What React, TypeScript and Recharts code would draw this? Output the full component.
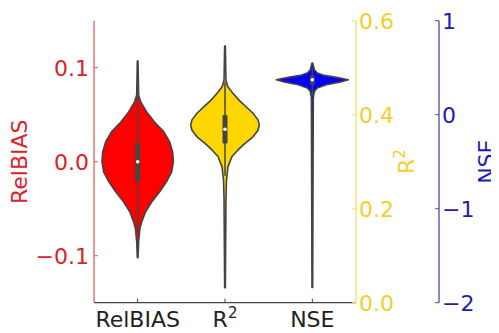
import * as React from "react"
import { ComposedChart, Scatter, XAxis, YAxis, Label } from "recharts"

const categories = ["RelBIAS", "R²", "NSE"]

// violin outlines: value along the axis, half width in category units
const relbiasY = [-0.102, -0.085, -0.071, -0.064, -0.053, -0.043, -0.032, -0.021, -0.011, 0.0, 0.01, 0.021, 0.032, 0.042, 0.053, 0.064, 0.071, 0.107]
const relbiasWidth = [0.004, 0.011, 0.026, 0.046, 0.092, 0.16, 0.252, 0.332, 0.389, 0.409, 0.401, 0.367, 0.298, 0.195, 0.103, 0.034, 0.011, 0.004]

const r2Y = [0.032, 0.219, 0.261, 0.289, 0.311, 0.325, 0.339, 0.353, 0.367, 0.378, 0.389, 0.403, 0.417, 0.431, 0.446, 0.46, 0.474, 0.546]
const r2Width = [0.004, 0.011, 0.017, 0.034, 0.08, 0.149, 0.229, 0.321, 0.378, 0.393, 0.378, 0.321, 0.241, 0.16, 0.088, 0.031, 0.011, 0.004]

const nseY = [-1.837, 0.178, 0.248, 0.284, 0.319, 0.348, 0.372, 0.397, 0.418, 0.443, 0.479, 0.55]
const nseWidth = [0.004, 0.011, 0.023, 0.057, 0.16, 0.321, 0.412, 0.275, 0.137, 0.057, 0.023, 0.004]

// inner box plot per violin (RelBIAS, R², NSE)
const boxLow = [-0.021, 0.339, 0.319]
const boxHigh = [0.02, 0.399, 0.418]
const medians = [0.0, 0.369, 0.372]
const whiskerLow = [-0.075, 0.27, 0.2]
const whiskerHigh = [0.07, 0.47, 0.5]

const relbiasTicks = [-0.1, 0, 0.1]
const r2Ticks = [0, 0.2, 0.4, 0.6]
const nseTicks = [-2, -1, 0, 1]

const EDGE = "#444444"
const FONT = "DejaVu Sans"

// axis ids sort in the order the right-hand axes are stacked
const violins = [
  { axis: "a-rel", ys: relbiasY, ws: relbiasWidth, fill: "#ff0000" },
  { axis: "b-r2", ys: r2Y, ws: r2Width, fill: "#ffd700" },
  { axis: "c-nse", ys: nseY, ws: nseWidth, fill: "#0000ff" },
]

function outline(pos: number, ys: number[], ws: number[]) {
  const right = ys.map((y, i) => ({ x: pos + ws[i], y }))
  const left = ys.map((y, i) => ({ x: pos - ws[i], y })).reverse()
  return [...right, ...left]
}

const minus = (s: string) => s.replace("-", "\u2212")

// "R²" drawn mathtext-style: raised, smaller 2
function withSuper(text: string) {
  if (text !== "R²") return text
  return (
    <>
      R
      <tspan dy={-9} fontSize={15}>
        2
      </tspan>
    </>
  )
}

const noDot = () => <g />

const medianDot = (p: any) => <circle cx={p.cx} cy={p.cy} r={1.8} fill="#ffffff" />

const xTick = (p: any) => (
  <text x={p.x} y={p.y} dy="0.71em" textAnchor="middle" fill="#222222" fontSize={22} fontFamily={FONT}>
    {withSuper(categories[p.payload.value])}
  </text>
)

function sideLabel(text: string, color: string, dx: number) {
  return (props: any) => {
    const vb = props.viewBox
    const x = vb.x + dx
    const y = vb.y + vb.height / 2
    return (
      <text
        x={x}
        y={y}
        transform={`rotate(-90, ${x}, ${y})`}
        textAnchor="middle"
        fill={color}
        fontSize={22}
        fontFamily={FONT}
      >
        {withSuper(text)}
      </text>
    )
  }
}

export default function App() {
  return (
    <ComposedChart width={491} height={325} margin={{ top: 12.7, right: 0, bottom: 0, left: 0 }}>
      <XAxis
        type="number"
        dataKey="x"
        domain={[-0.5, 2.5]}
        ticks={[0, 1, 2]}
        interval={0}
        height={30.3}
        axisLine={{ stroke: EDGE, strokeWidth: 1.3 }}
        tickLine={{ stroke: EDGE }}
        tickSize={-4}
        tickMargin={13}
        tick={xTick}
      />
      <YAxis
        yAxisId="a-rel"
        type="number"
        dataKey="y"
        orientation="left"
        width={86}
        domain={[-0.15, 0.15]}
        ticks={relbiasTicks}
        interval={0}
        tickFormatter={(v: number) => minus(v.toFixed(1))}
        axisLine={{ stroke: "#e06060", strokeWidth: 1.3 }}
        tickLine={{ stroke: "#e06060" }}
        tickSize={-4}
        tickMargin={9}
        tick={{ fill: "#e0202a", fontSize: 22, fontFamily: FONT }}
      >
        <Label content={sideLabel("RelBIAS", "#e0202a", 19)} />
      </YAxis>
      <YAxis
        yAxisId="b-r2"
        type="number"
        dataKey="y"
        orientation="right"
        width={83}
        domain={[0, 0.6]}
        ticks={r2Ticks}
        interval={0}
        tickFormatter={(v: number) => v.toFixed(1)}
        axisLine={{ stroke: "#ece36a", strokeWidth: 1.3 }}
        tickLine={{ stroke: "#ece36a" }}
        tickSize={-4}
        tickMargin={7}
        tick={{ fill: "#f2cf2a", fontSize: 22, fontFamily: FONT }}
      >
        <Label content={sideLabel("R²", "#f2cf2a", 58)} />
      </YAxis>
      <YAxis
        yAxisId="c-nse"
        type="number"
        dataKey="y"
        orientation="right"
        width={60}
        domain={[-2, 1]}
        ticks={nseTicks}
        interval={0}
        tickFormatter={(v: number) => minus(String(v))}
        axisLine={{ stroke: "#4a4aa8", strokeWidth: 1.3 }}
        tickLine={{ stroke: "#4a4aa8" }}
        tickSize={-4}
        tickMargin={7}
        tick={{ fill: "#1c1cb4", fontSize: 22, fontFamily: FONT }}
      >
        <Label content={sideLabel("NSE", "#1c1cb4", 55)} />
      </YAxis>

      {violins.map((v, i) => (
        <Scatter
          key={`violin-${i}`}
          yAxisId={v.axis}
          data={outline(i, v.ys, v.ws)}
          shape={noDot}
          line={{ fill: v.fill, stroke: EDGE, strokeWidth: 1.6, strokeLinejoin: "round" }}
          lineJointType="linearClosed"
          isAnimationActive={false}
        />
      ))}
      {violins.map((v, i) => (
        <Scatter
          key={`whisker-${i}`}
          yAxisId={v.axis}
          data={[{ x: i, y: whiskerLow[i] }, { x: i, y: whiskerHigh[i] }]}
          shape={noDot}
          line={{ stroke: EDGE, strokeWidth: 1.5 }}
          lineJointType="linear"
          isAnimationActive={false}
        />
      ))}
      {violins.map((v, i) => (
        <Scatter
          key={`box-${i}`}
          yAxisId={v.axis}
          data={[{ x: i, y: boxLow[i] }, { x: i, y: boxHigh[i] }]}
          shape={noDot}
          line={{ stroke: EDGE, strokeWidth: 5 }}
          lineJointType="linear"
          isAnimationActive={false}
        />
      ))}
      {violins.map((v, i) => (
        <Scatter
          key={`median-${i}`}
          yAxisId={v.axis}
          data={[{ x: i, y: medians[i] }]}
          shape={medianDot}
          isAnimationActive={false}
        />
      ))}
    </ComposedChart>
  )
}
